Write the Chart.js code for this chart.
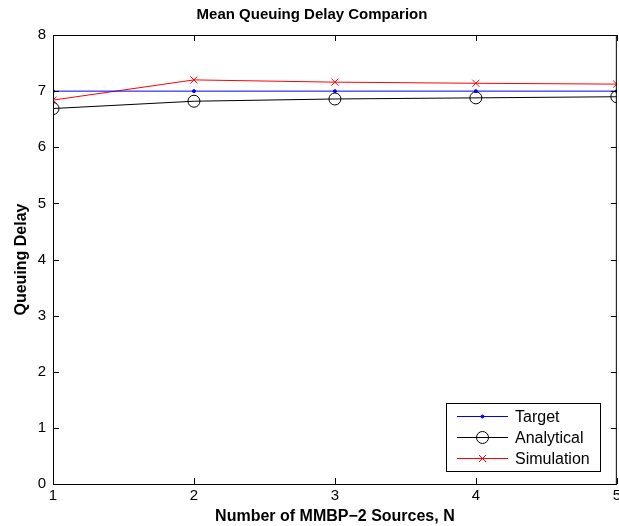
<!DOCTYPE html>
<html>
<head>
<meta charset="utf-8">
<script src="https://cdn.jsdelivr.net/npm/chart.js@4/dist/chart.umd.min.js"></script>
<style>
  html, body { margin: 0; padding: 0; background: #fff; overflow: hidden; }
  #wrap { width: 624px; height: 526px; }
</style>
</head>
<body>
<div id="wrap"><canvas id="c"></canvas></div>
<script>
// data
const sources = [1, 2, 3, 4, 5];
const target = [7, 7, 7, 7, 7];
const analytical = [6.69, 6.82, 6.86, 6.88, 6.90];
const simulation = [6.84, 7.20, 7.16, 7.14, 7.125];
const yTicks = [0, 1, 2, 3, 4, 5, 6, 7, 8];

const FONT = "'Liberation Sans', Arial, Helvetica, sans-serif";

function pts(ys) {
  return sources.map((x, i) => ({ x: x, y: ys[i] }));
}

// matlab style box with inward ticks on all four sides
const boxPlugin = {
  id: 'box',
  afterDatasetsDraw(chart) {
    const { ctx, chartArea: a, scales } = chart;
    ctx.save();
    ctx.strokeStyle = '#000';
    ctx.lineWidth = 1;
    ctx.strokeRect(a.left + 0.5, a.top + 0.5, a.right - a.left - 1, a.bottom - a.top);
    ctx.beginPath();
    sources.forEach(v => {
      const x = Math.round(scales.x.getPixelForValue(v)) + 0.5;
      ctx.moveTo(x, a.bottom); ctx.lineTo(x, a.bottom - 6);
      ctx.moveTo(x, a.top); ctx.lineTo(x, a.top + 6);
    });
    yTicks.forEach(v => {
      const y = Math.round(scales.y.getPixelForValue(v)) + 0.5;
      ctx.moveTo(a.left, y); ctx.lineTo(a.left + 6, y);
      ctx.moveTo(a.right, y); ctx.lineTo(a.right - 6, y);
    });
    ctx.stroke();
    ctx.restore();
  }
};

// legend box in the lower right corner
const legendPlugin = {
  id: 'boxLegend',
  afterDraw(chart) {
    const { ctx } = chart;
    const x0 = 446, y0 = 403, w = 154, h = 68;
    ctx.save();
    ctx.fillStyle = '#fff';
    ctx.fillRect(x0, y0, w, h);
    ctx.strokeStyle = '#000';
    ctx.lineWidth = 1;
    ctx.strokeRect(x0 + 0.5, y0 + 0.5, w, h);
    ctx.font = '16px ' + FONT;
    ctx.textBaseline = 'middle';
    chart.data.datasets.forEach((ds, i) => {
      const y = y0 + 13.5 + i * 21;
      ctx.strokeStyle = ds.borderColor;
      ctx.lineWidth = 1;
      ctx.beginPath();
      ctx.moveTo(x0 + 11, y); ctx.lineTo(x0 + 62, y);
      ctx.stroke();
      ctx.fillStyle = ds.pointBackgroundColor;
      ctx.strokeStyle = ds.borderColor;
      Chart.helpers.drawPoint(ctx, {
        pointStyle: ds.pointStyle,
        radius: ds.pointRadius,
        borderWidth: 1
      }, x0 + 36.5, y);
      ctx.fillStyle = '#000';
      ctx.fillText(ds.label, x0 + 69, y + 1);
    });
    ctx.restore();
  }
};

new Chart(document.getElementById('c'), {
  type: 'line',
  data: {
    datasets: [
      {
        label: 'Target',
        data: pts(target),
        borderColor: '#0000ff',
        backgroundColor: '#0000ff',
        pointBackgroundColor: '#0000ff',
        pointStyle: 'circle',
        pointRadius: 1.5,
        borderWidth: 1
      },
      {
        label: 'Analytical',
        data: pts(analytical),
        borderColor: '#000000',
        backgroundColor: 'rgba(0,0,0,0)',
        pointBackgroundColor: 'rgba(0,0,0,0)',
        pointStyle: 'circle',
        pointRadius: 6,
        borderWidth: 1
      },
      {
        label: 'Simulation',
        data: pts(simulation),
        borderColor: '#ff0000',
        backgroundColor: '#ff0000',
        pointBackgroundColor: '#ff0000',
        pointStyle: 'crossRot',
        pointRadius: 5,
        borderWidth: 1
      }
    ]
  },
  options: {
    responsive: true,
    maintainAspectRatio: false,
    animation: false,
    layout: { padding: { left: 0, right: 0, top: 0, bottom: 0 } },
    plugins: {
      legend: { display: false },
      tooltip: { enabled: false },
      title: {
        display: true,
        text: 'Mean Queuing Delay Comparion',
        color: '#000',
        font: { family: FONT, size: 15, weight: 'bold' },
        padding: { top: 6, bottom: 11 }
      }
    },
    scales: {
      x: {
        type: 'linear',
        min: 1,
        max: 5,
        afterBuildTicks: s => { s.ticks = sources.map(v => ({ value: v })); },
        grid: { display: false, drawTicks: false },
        border: { display: false },
        ticks: { color: '#000', font: { family: FONT, size: 15 }, padding: 3, maxRotation: 0 },
        title: {
          display: true,
          text: 'Number of MMBP\u22122 Sources, N',
          color: '#000',
          font: { family: FONT, size: 16, weight: 'bold' },
          padding: { top: 2, bottom: 0 }
        },
        afterFit: s => { s.height = 42; }
      },
      y: {
        min: 0,
        max: 8,
        afterBuildTicks: s => { s.ticks = yTicks.map(v => ({ value: v })); },
        grid: { display: false, drawTicks: false },
        border: { display: false },
        ticks: { color: '#000', font: { family: FONT, size: 15 }, padding: 7 },
        title: {
          display: true,
          text: 'Queuing Delay',
          color: '#000',
          font: { family: FONT, size: 16, weight: 'bold' },
          padding: { top: 12, bottom: 0 }
        },
        afterFit: s => { s.width = 53; }
      }
    }
  },
  plugins: [boxPlugin, legendPlugin]
});
</script>
</body>
</html>
